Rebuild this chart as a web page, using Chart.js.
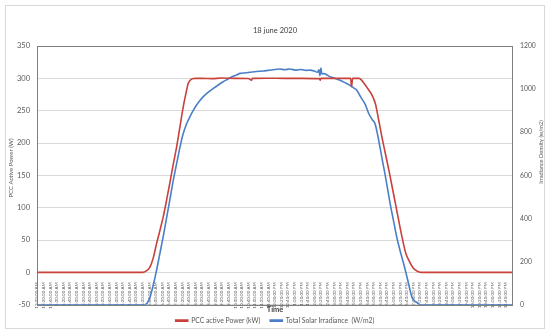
<!DOCTYPE html>
<html lang="en">
<head>
<meta charset="UTF-8">
<title>18 june 2020</title>
<script src="https://cdn.jsdelivr.net/npm/chart.js"></script>
<style>
    html, body { margin: 0; padding: 0; background: #fff; }
    .chart-box { width: 550px; height: 334px; position: relative; }
</style>
</head>
<body>
<div class="chart-box"><canvas id="chartCanvas"></canvas></div>
<script>
// tick labels of the time axis, one every 20 minutes
const timeLabels = [
    '12:00:00 AM', '12:20:00 AM', '12:40:00 AM', '1:00:00 AM', '1:20:00 AM', '1:40:00 AM',
    '2:00:00 AM', '2:20:00 AM', '2:40:00 AM', '3:00:00 AM', '3:20:00 AM', '3:40:00 AM',
    '4:00:00 AM', '4:20:00 AM', '4:40:00 AM', '5:00:00 AM', '5:20:00 AM', '5:40:00 AM',
    '6:00:00 AM', '6:20:00 AM', '6:40:00 AM', '7:00:00 AM', '7:20:00 AM', '7:40:00 AM',
    '8:00:00 AM', '8:20:00 AM', '8:40:00 AM', '9:00:00 AM', '9:20:00 AM', '9:40:00 AM',
    '10:00:00 AM', '10:20:00 AM', '10:40:00 AM', '11:00:00 AM', '11:20:00 AM', '11:40:00 AM',
    '12:00:00 PM', '12:20:00 PM', '12:40:00 PM', '1:00:00 PM', '1:20:00 PM', '1:40:00 PM',
    '2:00:00 PM', '2:20:00 PM', '2:40:00 PM', '3:00:00 PM', '3:20:00 PM', '3:40:00 PM',
    '4:00:00 PM', '4:20:00 PM', '4:40:00 PM', '5:00:00 PM', '5:20:00 PM', '5:40:00 PM',
    '6:00:00 PM', '6:20:00 PM', '6:40:00 PM', '7:00:00 PM', '7:20:00 PM', '7:40:00 PM',
    '8:00:00 PM', '8:20:00 PM', '8:40:00 PM', '9:00:00 PM', '9:20:00 PM', '9:40:00 PM',
    '10:00:00 PM', '10:20:00 PM', '10:40:00 PM', '11:00:00 PM', '11:20:00 PM', '11:40:00 PM'
];

// PCC active power (left axis)
const powerTimes = [
    '0:00', '5:21', '5:30', '5:42', '5:52', '6:02', '6:12', '6:22', '6:32', '6:42',
    '6:52', '7:03', '7:13', '7:23', '7:31', '7:38', '7:44', '7:50', '8:00', '8:20',
    '8:50', '9:20', '10:00', '10:40', '10:50', '10:52', '11:40', '12:30', '13:20', '14:16',
    '14:18', '14:20', '15:00', '15:50', '15:53', '15:56', '16:16', '16:31', '16:45', '16:55',
    '17:05', '17:15', '17:25', '17:46', '18:06', '18:26', '18:37', '18:47', '18:59', '19:11',
    '19:23', '23:59'
];
const powerValues = [
    0, 0, 2, 8, 22, 44, 64, 85, 110, 137,
    165, 194, 225, 256, 276, 292, 297, 299.5, 300, 300,
    299.5, 300.5, 300, 299.8, 297, 300, 300.2, 300, 300, 299.5,
    297, 300, 300, 300, 287, 300, 300, 292, 282, 274,
    261, 236, 209, 158, 106, 54, 30, 18, 7, 2,
    0, 0
];

// total solar irradiance (right axis)
const irrTimes = [
    '0:00', '5:26', '5:34', '5:42', '5:52', '6:02', '6:12', '6:22', '6:32', '6:42',
    '6:52', '7:03', '7:13', '7:23', '7:33', '7:43', '7:53', '8:03', '8:13', '8:23',
    '8:38', '8:54', '9:09', '9:24', '9:39', '9:54', '10:05', '10:15', '10:30', '10:45',
    '11:05', '11:26', '11:40', '11:55', '12:16', '12:30', '12:45', '13:07', '13:20', '13:35',
    '13:47', '14:00', '14:10', '14:14', '14:17', '14:20', '14:23', '14:30', '14:40', '14:48',
    '15:00', '15:18', '15:33', '15:48', '16:00', '16:09', '16:20', '16:34', '16:45', '16:55',
    '17:04', '17:11', '17:19', '17:26', '17:34', '17:42', '17:50', '18:00', '18:10', '18:20',
    '18:31', '18:39', '18:46', '18:51', '18:56', '19:03', '19:11', '19:21', '23:59'
];
const irrValues = [
    0, 0, 8, 33, 90, 158, 236, 313, 398, 483,
    570, 654, 730, 794, 838, 871, 900, 925, 946, 964,
    985, 1003, 1019, 1034, 1047, 1060, 1066, 1073, 1075, 1078,
    1082, 1084, 1087, 1090, 1093, 1090, 1093, 1088, 1091, 1087,
    1088, 1084, 1078, 1090, 1062, 1098, 1070, 1072, 1064, 1057,
    1052, 1041, 1030, 1018, 1005, 995, 965, 930, 887, 860,
    840, 795, 731, 672, 608, 538, 468, 390, 313, 250,
    189, 140, 96, 62, 34, 18, 10, 0, 0
];

function toMinutes(t) {
    const [h, m] = t.split(':').map(Number);
    return h * 60 + m;
}
const powerData = powerTimes.map((t, i) => ({ x: toMinutes(t), y: powerValues[i] }));
const irrData = irrTimes.map((t, i) => ({ x: toMinutes(t), y: irrValues[i] }));

const textColor = '#595959';
const fontFamily = 'Lato, "Open Sans", sans-serif';

// outer border, plot frame and the two axis titles
const framePlugin = {
    id: 'frame',
    beforeDraw(chart) {
        const ctx = chart.ctx;
        ctx.save();
        ctx.fillStyle = '#ffffff';
        ctx.fillRect(0, 0, chart.width, chart.height);
        ctx.strokeStyle = '#d9d9d9';
        ctx.lineWidth = 1;
        ctx.strokeRect(5.5, 5.5, 539, 323);
        ctx.restore();
    },
    beforeDatasetsDraw(chart) {
        const ctx = chart.ctx;
        const a = chart.chartArea;
        ctx.save();
        ctx.strokeStyle = '#7f7f7f';
        ctx.lineWidth = 1;
        ctx.strokeRect(Math.round(a.left) + 0.5, Math.round(a.top) + 0.5,
            Math.round(a.right - a.left), Math.round(a.bottom - a.top));
        ctx.restore();
    },
    afterDraw(chart) {
        const ctx = chart.ctx;
        ctx.save();
        ctx.fillStyle = textColor;
        ctx.font = '6px ' + fontFamily;
        ctx.textAlign = 'center';
        ctx.textBaseline = 'middle';
        ctx.translate(11, 168);
        ctx.rotate(-Math.PI / 2);
        ctx.fillText('PCC Active Power (W)', 0, 0);
        ctx.restore();

        ctx.save();
        ctx.fillStyle = textColor;
        ctx.font = '5.6px ' + fontFamily;
        ctx.textAlign = 'center';
        ctx.textBaseline = 'middle';
        ctx.translate(541.5, 152);
        ctx.rotate(-Math.PI / 2);
        ctx.fillText('Irradiance Density (w/m2)', 0, 0);
        ctx.restore();
    }
};

const chart = new Chart(document.getElementById('chartCanvas'), {
    type: 'line',
    data: {
        datasets: [{
            label: 'PCC active Power (kW)',
            data: powerData,
            borderColor: '#c8413b',
            backgroundColor: '#c8413b',
            borderWidth: 1.6,
            pointRadius: 0,
            cubicInterpolationMode: 'monotone',
            yAxisID: 'y'
        }, {
            label: 'Total Solar Irradiance  (W/m2)',
            data: irrData,
            borderColor: '#4a7fc8',
            backgroundColor: '#4a7fc8',
            borderWidth: 1.6,
            pointRadius: 0,
            cubicInterpolationMode: 'monotone',
            yAxisID: 'y1'
        }]
    },
    options: {
        responsive: true,
        maintainAspectRatio: false,
        animation: false,
        layout: { padding: 0 },
        scales: {
            x: {
                type: 'linear',
                min: 0,
                max: 1439,
                position: { y: 0 },
                grid: { display: false },
                border: { display: false },
                afterBuildTicks: s => { s.ticks = timeLabels.map((l, i) => ({ value: i * 20 })); },
                afterFit: s => { s.height = 0; },
                ticks: {
                    autoSkip: false,
                    minRotation: 90,
                    maxRotation: 90,
                    padding: 2,
                    color: textColor,
                    font: { family: fontFamily, size: 4.5 },
                    callback: (v) => timeLabels[Math.round(v / 20)]
                }
            },
            y: {
                position: 'left',
                min: -50,
                max: 350,
                afterFit: s => { s.width = 37; },
                grid: { color: '#d9d9d9', drawTicks: false },
                border: { display: false },
                ticks: {
                    stepSize: 50,
                    padding: 7,
                    color: textColor,
                    font: { family: fontFamily, size: 7.5 }
                }
            },
            y1: {
                position: 'right',
                min: 0,
                max: 1200,
                afterFit: s => { s.width = 38; },
                grid: { display: false, drawTicks: false },
                border: { display: false },
                ticks: {
                    stepSize: 200,
                    padding: 8,
                    color: textColor,
                    font: { family: fontFamily, size: 6.8 },
                    callback: (v) => String(v)
                }
            }
        },
        plugins: {
            title: {
                display: true,
                text: '18 june 2020',
                color: '#404040',
                font: { family: fontFamily, size: 7.5, weight: 'normal' },
                padding: { top: 26, bottom: 11 }
            },
            legend: {
                position: 'bottom',
                title: {
                    display: true,
                    text: 'Time',
                    color: '#404040',
                    font: { family: fontFamily, size: 7.5, weight: 'bold' },
                    padding: { top: 1.5, bottom: -8 }
                },
                labels: {
                    boxWidth: 12,
                    boxHeight: 1,
                    padding: 10,
                    color: textColor,
                    font: { family: fontFamily, size: 6.8 }
                }
            },
            tooltip: { enabled: false }
        }
    },
    plugins: [framePlugin]
});
</script>
</body>
</html>
